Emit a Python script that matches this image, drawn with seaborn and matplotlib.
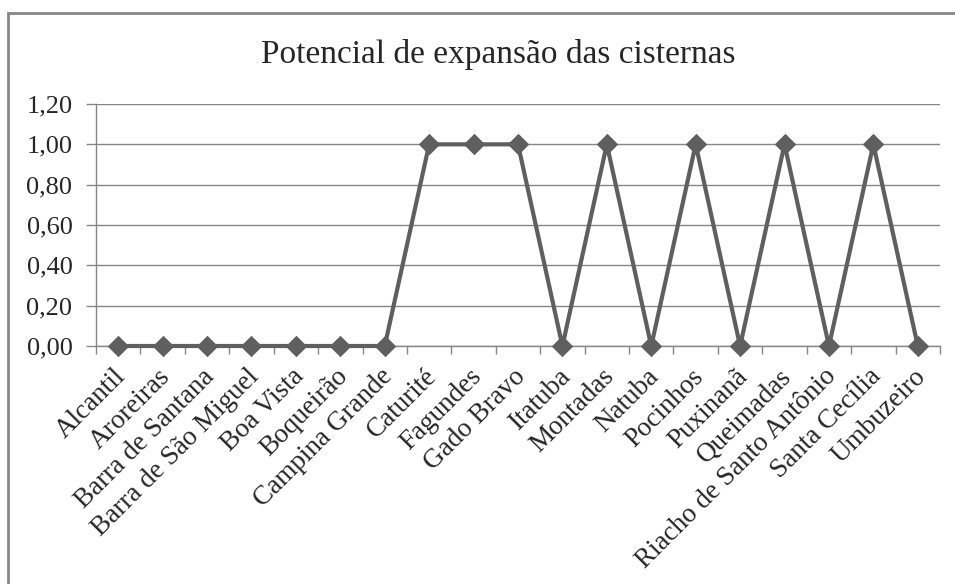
import pandas as pd
import seaborn as sns
import matplotlib.pyplot as plt
from matplotlib.patches import Rectangle
from matplotlib.ticker import FixedLocator, FuncFormatter
from matplotlib.transforms import ScaledTranslation

municipios = ['Alcantil', 'Aroreiras', 'Barra de Santana', 'Barra de São Miguel',
              'Boa Vista', 'Boqueirão', 'Campina Grande', 'Caturité', 'Fagundes',
              'Gado Bravo', 'Itatuba', 'Montadas', 'Natuba', 'Pocinhos', 'Puxinanã',
              'Queimadas', 'Riacho de Santo Antônio', 'Santa Cecília', 'Umbuzeiro']
potencial = [0, 0, 0, 0, 0, 0, 0, 1, 1, 1, 0, 1, 0, 1, 0, 1, 0, 1, 0]
y_ticks = [0.0, 0.2, 0.4, 0.6, 0.8, 1.0, 1.2]

sns.set_style('white')
plt.rcParams['font.family'] = ['Liberation Serif', 'DejaVu Serif']

df = pd.DataFrame({'municipio': municipios, 'potencial': potencial})

fig = plt.figure(figsize=(9.55, 5.84), dpi=100)
ax = fig.add_axes([96/955, 1-346/584, (940-96)/955, (346-104)/584])

cinza = '#868686'
for t in y_ticks:
    ax.axhline(t, color=cinza, lw=1, zorder=0)

sns.lineplot(data=df, x='municipio', y='potencial', sort=False, ax=ax,
             color='#5f5f5f', lw=3, marker='D', markersize=10.5,
             markeredgecolor='#5f5f5f', zorder=3, clip_on=False)

ax.set_xlim(-0.5, len(municipios) - 0.5)
ax.set_ylim(0, 1.2)
ax.set_yticks(y_ticks)
ax.yaxis.set_major_formatter(FuncFormatter(lambda v, p: f'{v:.2f}'.replace('.', ',')))
ax.set_xticks(range(len(municipios)))
ax.set_xticklabels(municipios, rotation=45, ha='right', rotation_mode='anchor')
ax.xaxis.set_minor_locator(FixedLocator([i - 0.5 for i in range(len(municipios) + 1)]))
ax.tick_params(axis='x', which='major', length=0, pad=13, labelsize=19.5)
ax.tick_params(axis='x', which='minor', length=6, color=cinza, width=1, direction='out', bottom=True)
ax.tick_params(axis='y', length=7, color=cinza, width=1, direction='out', left=True, labelsize=19, pad=10)
ax.set_xlabel('')
ax.set_ylabel('')

# desloca um pouco os rótulos para a esquerda
desloc = ScaledTranslation(-5/100, 0, fig.dpi_scale_trans)
for lbl in ax.get_xticklabels():
    lbl.set_transform(lbl.get_transform() + desloc)

for s in ['top', 'right']:
    ax.spines[s].set_visible(False)
for s in ['left', 'bottom']:
    ax.spines[s].set_color(cinza)
    ax.spines[s].set_linewidth(1)

fig.text(498/955, 1-55/584, 'Potencial de expansão das cisternas', ha='center', va='center', fontsize=24)

fig.patches.append(Rectangle((8/955, -0.1), 1.2, 1-13/584 + 0.1, transform=fig.transFigure,
                             fill=False, edgecolor=cinza, lw=2))

fig.savefig('out.png', dpi=100)
